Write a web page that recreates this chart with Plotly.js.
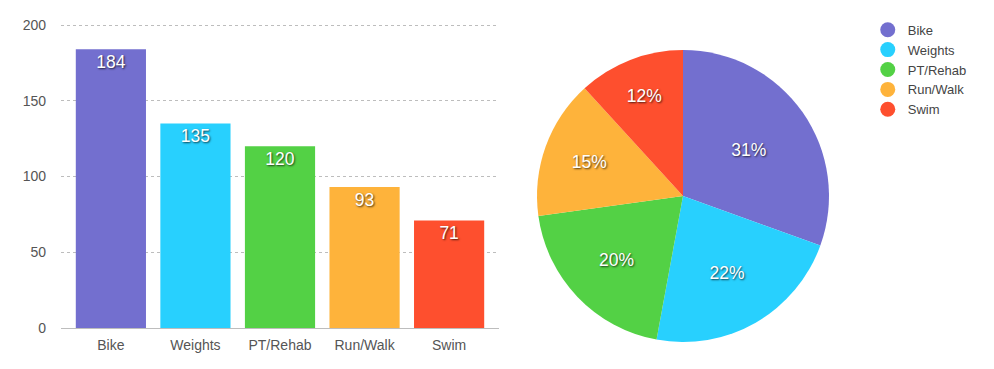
<!DOCTYPE html>
<html>
<head>
<meta charset="utf-8">
<script src="https://cdn.plot.ly/plotly-3.0.1.min.js"></script>
<style>html,body{margin:0;padding:0;background:#fff;}#chart{width:994px;height:369px;}</style>
</head>
<body>
<div id="chart"></div>
<script>
const categories = ['Bike', 'Weights', 'PT/Rehab', 'Run/Walk', 'Swim'];
const values = [184, 135, 120, 93, 71];
const colors = ['#736fcf', '#28d0fe', '#53d145', '#feb33b', '#fe4f2e'];
const yTicks = [0, 50, 100, 150, 200];

const FONT = 'Liberation Sans, Arial, sans-serif';
const SHADOW = '1px 1px 2px rgba(0,0,0,0.7)';

const barTrace = {
  type: 'bar',
  x: categories,
  y: values,
  text: values.map(String),
  textposition: 'inside',
  insidetextanchor: 'end',
  textangle: 0,
  textfont: {family: FONT, size: 17.5, color: '#ffffff', shadow: SHADOW},
  marker: {color: colors, line: {width: 0}},
  showlegend: false,
  hoverinfo: 'x+y',
  xaxis: 'x', yaxis: 'y'
};

const pieTrace = {
  type: 'pie',
  labels: categories,
  values: values,
  sort: false,
  direction: 'clockwise',
  rotation: 0,
  marker: {colors: colors, line: {width: 0}},
  texttemplate: '%{percent:.0%}',
  textposition: 'inside',
  insidetextorientation: 'horizontal',
  textfont: {family: FONT, size: 17.5, color: '#ffffff', shadow: SHADOW},
  showlegend: false,
  domain: {x: [537/994, 829/994], y: [27/369, 319/369]}
};

const legendTraces = categories.map((c, i) => ({
  type: 'scatter',
  mode: 'markers',
  x: [null], y: [null],
  name: c,
  marker: {symbol: 'circle', size: 15, color: colors[i]},
  showlegend: true,
  hoverinfo: 'skip',
  xaxis: 'x', yaxis: 'y'
}));

const layout = {
  width: 994,
  height: 369,
  margin: {l: 0, r: 0, t: 0, b: 0, pad: 0},
  paper_bgcolor: '#ffffff',
  plot_bgcolor: '#ffffff',
  font: {family: FONT, size: 14, color: '#555555'},
  bargap: 0.17,
  xaxis: {
    domain: [61/994, 499/994],
    type: 'category',
    range: [-0.59, 4.59],
    showgrid: false,
    zeroline: false,
    showline: true,
    linecolor: '#bdbdbd',
    linewidth: 1,
    ticks: '',
    ticklabelstandoff: 4,
    tickfont: {family: FONT, size: 14, color: '#555555'},
    fixedrange: true
  },
  yaxis: {
    domain: [41/369, 345.5/369],
    range: [0, 201],
    tickvals: yTicks,
    ticktext: yTicks.map(String),
    showgrid: true,
    gridcolor: '#bdbdbd',
    griddash: 'dot',
    gridwidth: 1,
    zeroline: false,
    showline: false,
    ticks: '',
    ticklabelstandoff: 14,
    tickfont: {family: FONT, size: 14, color: '#555555'},
    fixedrange: true
  },
  legend: {
    x: 0.873,
    xanchor: 'left',
    y: 0.96,
    yanchor: 'top',
    font: {family: FONT, size: 13, color: '#444444'},
    bgcolor: 'rgba(0,0,0,0)',
    tracegroupgap: 0,
    itemclick: false,
    itemdoubleclick: false
  },
  showlegend: true
};

Plotly.newPlot('chart', [barTrace, pieTrace, ...legendTraces], layout, {displayModeBar: false, staticPlot: true});
</script>
</body>
</html>
